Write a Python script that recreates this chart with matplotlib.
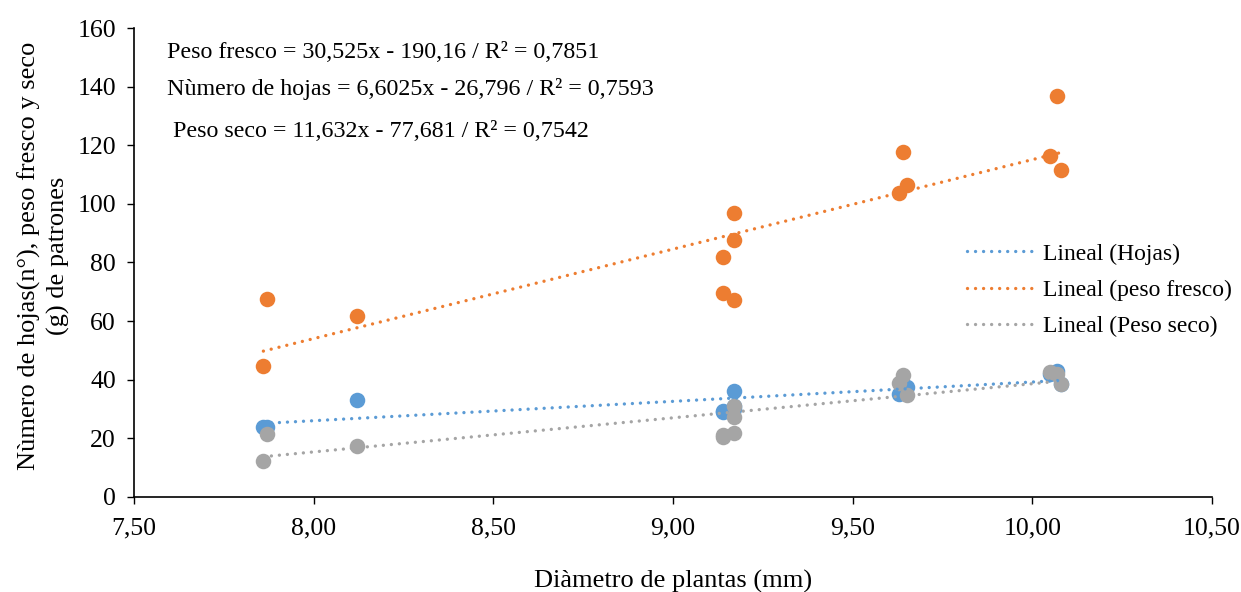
import matplotlib
matplotlib.use('Agg')
import matplotlib.pyplot as plt
import numpy as np

# diameter of plants (mm)
diametro = [7.86, 7.87, 8.12, 9.14, 9.14, 9.17, 9.17, 9.17, 9.63, 9.64, 9.65, 10.05, 10.07, 10.08]
hojas = [24.0, 24.0, 33.0, 29.5, 29.0, 36.0, 31.0, 30.0, 35.0, 38.5, 37.5, 42.0, 43.0, 38.5]
peso_fresco = [44.7, 67.4, 61.7, 81.9, 69.6, 96.9, 87.7, 67.2, 103.7, 117.7, 106.4, 116.3, 136.8, 111.4]
peso_seco = [12.4, 21.5, 17.5, 20.5, 21.2, 31.0, 27.3, 21.9, 38.9, 41.7, 34.8, 42.8, 42.0, 38.7]

# trendline coefficients (slope, intercept) as shown on the chart
fit_hojas = (6.6025, -26.796)
fit_fresco = (30.525, -190.16)
fit_seco = (11.632, -77.681)

equations = [
    'Peso fresco = 30,525x - 190,16 / R² = 0,7851',
    'Nùmero de hojas = 6,6025x - 26,796 / R² = 0,7593',
    'Peso seco = 11,632x - 77,681 / R² = 0,7542',
]

xticks = [7.5, 8.0, 8.5, 9.0, 9.5, 10.0, 10.5]
xticklabels = ['7,50', '8,00', '8,50', '9,00', '9,50', '10,00', '10,50']
yticks = [0, 20, 40, 60, 80, 100, 120, 140, 160]

blue = '#5B9BD5'
orange = '#ED7D31'
gray = '#A5A5A5'

plt.rcParams['font.family'] = ['Liberation Serif', 'DejaVu Serif']

fig = plt.figure(figsize=(12.41, 5.92), dpi=100)
ax = fig.add_axes([0.108, 0.1605, 0.8686, 0.7922])

ax.scatter(diametro, hojas, s=125, color=blue, zorder=3, linewidths=0)
ax.scatter(diametro, peso_fresco, s=125, color=orange, zorder=3, linewidths=0)
ax.scatter(diametro, peso_seco, s=125, color=gray, zorder=3, linewidths=0)

xl = np.array([min(diametro), max(diametro)])
dots = (0, (0.01, 2.4))
for fit, col, lab in [(fit_hojas, blue, 'Lineal (Hojas)'),
                      (fit_fresco, orange, 'Lineal (peso fresco)'),
                      (fit_seco, gray, 'Lineal (Peso seco)')]:
    ax.plot(xl, fit[0] * xl + fit[1], color=col, lw=2.4, linestyle=dots,
            dash_capstyle='round', zorder=4, label=lab)

ax.set_xlim(7.5, 10.5)
ax.set_ylim(0, 160)
ax.set_xticks(xticks)
ax.set_xticklabels(xticklabels)
ax.set_yticks(yticks)
ax.tick_params(axis='both', labelsize=18.5, direction='out', length=5, width=1)
ax.tick_params(axis='x', pad=10)
ax.tick_params(axis='y', pad=8)
for s in ['top', 'right']:
    ax.spines[s].set_visible(False)
for s in ['left', 'bottom']:
    ax.spines[s].set_linewidth(1.2)

ax.set_xlabel('Diàmetro de plantas (mm)', fontsize=19, labelpad=22)
ax.set_ylabel('Nùmero de hojas(n°), peso fresco y seco\n(g) de patrones', fontsize=19,
              linespacing=1.35)
ax.yaxis.set_label_coords(-0.059, 0.515)

ax.text(0.031, 0.948, equations[0], transform=ax.transAxes, fontsize=17.3, va='center')
ax.text(0.031, 0.869, equations[1], transform=ax.transAxes, fontsize=17.3, va='center')
ax.text(0.036, 0.78, equations[2], transform=ax.transAxes, fontsize=17.3, va='center')

leg = ax.legend(loc='center left', bbox_to_anchor=(0.773, 0.441), frameon=False,
                fontsize=17, handlelength=2.9, labelspacing=0.62, handletextpad=0.3,
                borderaxespad=0, borderpad=0)

fig.savefig('out.png', dpi=100)
